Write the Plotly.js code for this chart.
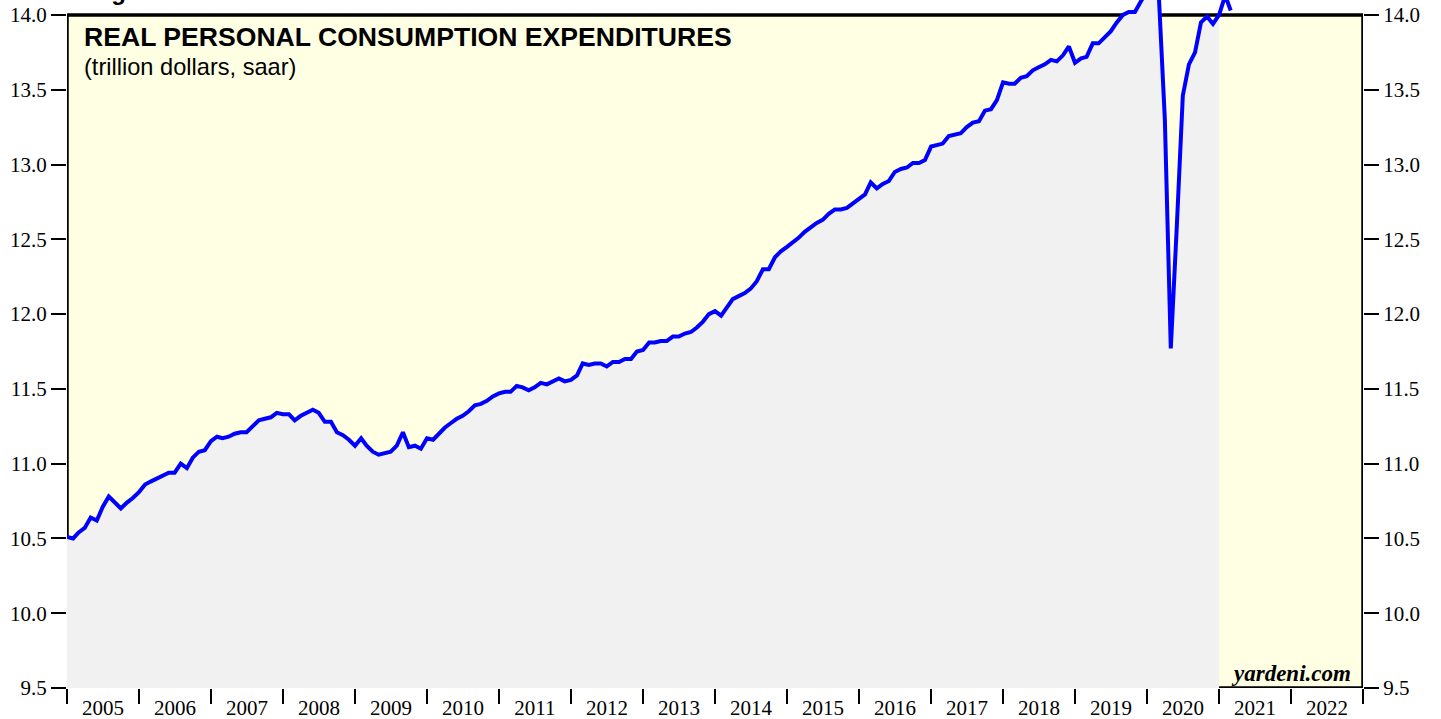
<!DOCTYPE html>
<html>
<head>
<meta charset="utf-8">
<script src="https://cdn.plot.ly/plotly-3.0.1.min.js"></script>
<style>
  html, body { margin: 0; padding: 0; background: #ffffff; }
  #chart { width: 1441px; height: 719px; }
</style>
</head>
<body>
<div id="chart"></div>
<script>
// Monthly real PCE, trillion dollars (saar), starting Jan 2005
const startYear = 2005;
const pce2005 = [10.51,10.50,10.54,10.57,10.64,10.62,10.71,10.78,10.74,10.70,10.74,10.77];
const pce2006 = [10.81,10.86,10.88,10.90,10.92,10.94,10.94,11.00,10.97,11.04,11.08,11.09];
const pce2007 = [11.15,11.18,11.17,11.18,11.20,11.21,11.21,11.25,11.29,11.30,11.31,11.34];
const pce2008 = [11.33,11.33,11.29,11.32,11.34,11.36,11.34,11.28,11.28,11.21,11.19,11.16];
const pce2009 = [11.12,11.17,11.12,11.08,11.06,11.07,11.08,11.12,11.21,11.11,11.12,11.10];
const pce2010 = [11.17,11.16,11.20,11.24,11.27,11.30,11.32,11.35,11.39,11.40,11.42,11.45];
const pce2011 = [11.47,11.48,11.48,11.52,11.51,11.49,11.51,11.54,11.53,11.55,11.57,11.55];
const pce2012 = [11.56,11.59,11.67,11.66,11.67,11.67,11.65,11.68,11.68,11.70,11.70,11.75];
const pce2013 = [11.76,11.81,11.81,11.82,11.82,11.85,11.85,11.87,11.88,11.91,11.95,12.00];
const pce2014 = [12.02,11.99,12.04,12.10,12.12,12.14,12.17,12.22,12.30,12.30,12.38,12.42];
const pce2015 = [12.45,12.48,12.51,12.55,12.58,12.61,12.63,12.67,12.70,12.70,12.71,12.74];
const pce2016 = [12.77,12.80,12.88,12.84,12.87,12.89,12.95,12.97,12.98,13.01,13.01,13.03];
const pce2017 = [13.12,13.13,13.14,13.19,13.20,13.21,13.25,13.28,13.29,13.36,13.37,13.43];
const pce2018 = [13.55,13.54,13.54,13.58,13.59,13.63,13.65,13.67,13.70,13.69,13.73,13.79];
const pce2019 = [13.68,13.71,13.72,13.81,13.81,13.85,13.89,13.95,14.00,14.02,14.02,14.09];
const pce2020 = [14.16,14.18,14.14,13.30,11.77,12.60,13.46,13.67,13.75,13.95,13.99,13.94];
const pce2021 = [14.00,14.13,14.03];

// shaded (grey) area covers data through Jan 2021
const shadedMonths = 193;

const yTickVals = [9.5,10.0,10.5,11.0,11.5,12.0,12.5,13.0,13.5,14.0];
const yTickText = ["9.5","10.0","10.5","11.0","11.5","12.0","12.5","13.0","13.5","14.0"];

const titleText = "REAL PERSONAL CONSUMPTION EXPENDITURES";
const subtitleText = "(trillion dollars, saar)";
const sourceText = "yardeni.com";
const figureText = "Figure 3";

const values = [].concat(pce2005,pce2006,pce2007,pce2008,pce2009,pce2010,pce2011,pce2012,
  pce2013,pce2014,pce2015,pce2016,pce2017,pce2018,pce2019,pce2020,pce2021);
const dates = values.map((v, i) => {
  const y = startYear + Math.floor(i / 12);
  const m = (i % 12) + 1;
  return y + "-" + (m < 10 ? "0" + m : m) + "-01";
});

const fillTrace = {
  x: dates.slice(0, shadedMonths),
  y: values.slice(0, shadedMonths),
  type: "scatter", mode: "lines",
  fill: "tozeroy", fillcolor: "#f1f1f1",
  line: { width: 0, color: "rgba(0,0,0,0)" },
  hoverinfo: "skip", xaxis: "x", yaxis: "y"
};
const lineTrace = {
  x: dates, y: values,
  type: "scatter", mode: "lines",
  line: { color: "#0000ff", width: 4 },
  xaxis: "x", yaxis: "y2"
};

const serif = { family: "Liberation Serif, Times New Roman, serif", size: 21, color: "#000" };
const yRange = [9.5, 14.1];
const xRange = ["2005-01-01", "2023-01-01"];

const layout = {
  width: 1441, height: 719,
  margin: { l: 67, r: 78, t: 0, b: 31, pad: 0 },
  paper_bgcolor: "#ffffff", plot_bgcolor: "#ffffff",
  showlegend: false,
  xaxis: {
    type: "date", range: xRange, tick0: "2005-01-01", dtick: "M12",
    tickformat: "%Y", ticklabelmode: "period",
    ticks: "outside", ticklen: 15, tickwidth: 2.5, tickcolor: "#000",
    showgrid: false, zeroline: false, showline: false,
    tickfont: serif, ticklabelstandoff: -14, fixedrange: true
  },
  yaxis: {
    range: yRange, tickvals: yTickVals, ticktext: yTickText,
    ticks: "outside", ticklen: 15, tickwidth: 2, tickcolor: "#000",
    showgrid: false, zeroline: false, showline: false,
    tickfont: serif, side: "left", fixedrange: true
  },
  yaxis2: {
    range: yRange, tickvals: yTickVals, ticktext: yTickText,
    overlaying: "y", side: "right",
    ticks: "outside", ticklen: 15, tickwidth: 2, tickcolor: "#000",
    showgrid: false, zeroline: false, showline: false,
    tickfont: serif, fixedrange: true
  },
  shapes: [
    { type: "rect", xref: "x", yref: "y", x0: xRange[0], x1: xRange[1], y0: 9.5, y1: 14.0,
      fillcolor: "#ffffe3", line: { width: 0 }, layer: "below" },
    { type: "rect", xref: "x", yref: "y", x0: xRange[0], x1: xRange[1], y0: 9.5, y1: 14.0,
      fillcolor: "rgba(0,0,0,0)", line: { width: 3.5, color: "#000" }, layer: "between" }
  ],
  annotations: [
    { text: "<b>" + titleText + "</b>", xref: "paper", yref: "paper",
      x: 0.0112, y: 0.9462, xanchor: "left", yanchor: "middle", showarrow: false,
      font: { family: "Liberation Sans, Arial, sans-serif", size: 26.6, color: "#000" } },
    { text: subtitleText, xref: "paper", yref: "paper",
      x: 0.0112, y: 0.9026, xanchor: "left", yanchor: "middle", showarrow: false,
      font: { family: "Liberation Sans, Arial, sans-serif", size: 23.6, color: "#000" } },
    { text: "<b><i>" + sourceText + "</i></b>", xref: "paper", yref: "paper",
      x: 0.9923, y: 0.0218, xanchor: "right", yanchor: "middle", showarrow: false,
      font: { family: "Liberation Serif, Times New Roman, serif", size: 23, color: "#000" } },
    { text: "<b>" + figureText + "</b>", xref: "paper", yref: "paper",
      x: 0.016, y: 1.013, xanchor: "left", yanchor: "middle", showarrow: false,
      font: { family: "Liberation Sans, Arial, sans-serif", size: 24, color: "#000" } }
  ]
};

Plotly.newPlot("chart", [fillTrace, lineTrace], layout, { displayModeBar: false, staticPlot: true });
</script>
</body>
</html>
